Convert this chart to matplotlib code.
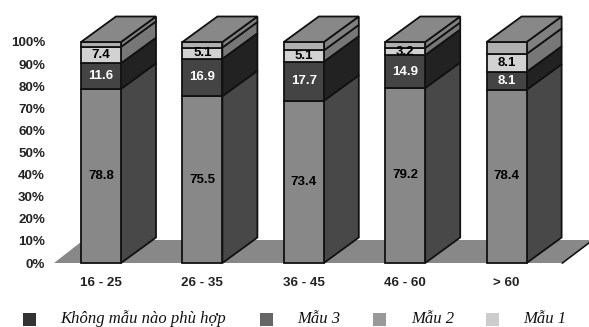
import matplotlib
matplotlib.use('Agg')
import matplotlib.pyplot as plt
from matplotlib.patches import Polygon, Rectangle

W, H = 589, 327

groups = ['16 - 25', '26 - 35', '36 - 45', '46 - 60', '> 60']
bottom_vals = [78.8, 75.5, 73.4, 79.2, 78.4]
dark_vals = [11.6, 16.9, 17.7, 14.9, 8.1]
light_vals = [7.4, 5.1, 5.1, 3.2, 8.1]
top_vals = [2.2, 2.5, 3.8, 2.7, 5.4]
ticks = list(range(0, 101, 10))

legend_names = ['Không mẫu nào phù hợp', 'Mẫu 3', 'Mẫu 2', 'Mẫu 1']
legend_cols = ['#333333', '#666666', '#999999', '#cccccc']
legend_sq_x = [23, 260, 373, 486]
legend_txt_x = [60, 297, 411, 523]

# front colour, side colour, label colour for each stacked segment
segments = [
    (bottom_vals, '#888888', '#484848', 'black'),
    (dark_vals, '#444444', '#222222', 'white'),
    (light_vals, '#d2d2d2', '#777777', 'black'),
    (top_vals, '#b0b0b0', '#808080', None),
]

fig = plt.figure(figsize=(W / 100, H / 100), dpi=100)
plt.rcParams['font.family'] = 'Liberation Sans'

# axes box runs from the 0% line to the 100% line
ax = fig.add_axes([54 / W, (H - 263) / H, (W - 54) / W, 221 / H])
ax.set_ylim(0, 100)
ax.set_xlim((54 - 101) / 101.4, (589 - 101) / 101.4)

dx = 35 / 101.4
dy = 25.5 / 2.21
bw = 40 / 101.4

# floor
ax.add_patch(Polygon([(-0.463, 0), (-0.463 + 0.29, 10.4), (4.85, 10.4), (4.85 - 0.31, 0)],
                     closed=True, fc='#888888', ec='none', clip_on=False, zorder=1))
ax.plot([4.55, 4.85], [0, 10.4], color='#111111', lw=1.2, clip_on=False, zorder=1.5)

for i in range(len(groups)):
    base = 0
    z = 2 + i
    for vals, front, side, txt in segments:
        v = vals[i]
        x0 = i - bw / 2
        x1 = i + bw / 2
        ax.add_patch(Polygon([(x1, base), (x1 + dx, base + dy), (x1 + dx, base + v + dy), (x1, base + v)],
                             closed=True, fc=side, ec='#111111', lw=1.3, clip_on=False, zorder=z))
        ax.bar(i, v, bw, bottom=base, color=front, edgecolor='#111111', linewidth=1.3, clip_on=False, zorder=z)
        if txt:
            ax.text(i, base + v / 2, '%.1f' % v, color=txt, ha='center', va='center',
                    fontsize=9.5, fontweight='bold', clip_on=True, zorder=z + 0.5)
        base += v
    ax.add_patch(Polygon([(i - bw / 2, base), (i - bw / 2 + dx, base + dy), (i + bw / 2 + dx, base + dy), (i + bw / 2, base)],
                         closed=True, fc='#888888', ec='#111111', lw=1.3, clip_on=False, zorder=z))

for s in ax.spines.values():
    s.set_visible(False)
ax.patch.set_visible(False)
ax.set_yticks(ticks)
ax.set_yticklabels(['%d%%' % t for t in ticks], fontsize=9.6, fontweight='bold', color='#222222')
ax.set_xticks(range(len(groups)))
ax.set_xticklabels(groups, fontsize=9.6, fontweight='bold', color='#222222')
ax.tick_params(axis='y', length=0, pad=6.5)
ax.tick_params(axis='x', length=0, pad=10)

# legend
for name, col, sx, tx in zip(legend_names, legend_cols, legend_sq_x, legend_txt_x):
    fig.add_artist(Rectangle((sx / W, (H - 326) / H), 13 / W, 13 / H, transform=fig.transFigure, fc=col, ec='none'))
    fig.text(tx / W, (H - 319) / H, name, family='Liberation Serif', style='italic',
             fontsize=12, color='#111111', va='center', ha='left')

fig.savefig('out.png', dpi=100)
